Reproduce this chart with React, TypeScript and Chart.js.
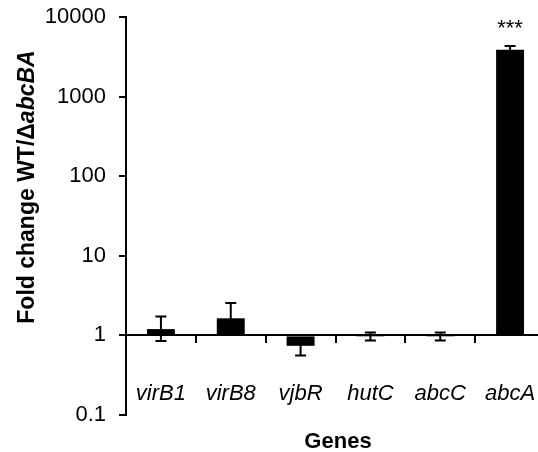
import React, { useEffect, useRef } from "react";
import { Chart, registerables } from "chart.js";

Chart.register(...registerables);

const genes = ["virB1", "virB8", "vjbR", "hutC", "abcC", "abcA"];
const foldChange = [1.2, 1.64, 0.74, 0.98, 0.98, 3890];
const errHigh = [1.73, 2.56, 0.9, 1.09, 1.09, 4315];
const errLow = [0.85, 1.1, 0.56, 0.865, 0.865, 3500];
const significance = ["", "", "", "", "", "***"];
const yTickValues = [0.1, 1, 10, 100, 1000, 10000];
const yTickLabels = ["0.1", "1", "10", "100", "1000", "10000"];
const xTitle = "Genes";
const yTitleParts = [
  { text: "Fold change ", italic: false },
  { text: "WT/Δ", italic: false },
  { text: "abcBA", italic: true },
];

const FONT = "'Liberation Sans', Arial, Helvetica, sans-serif";

const annotationPlugin = {
  id: "annot",
  afterDatasetsDraw(chart: any) {
    const ctx = chart.ctx;
    const y = chart.scales.y;
    ctx.save();
    ctx.strokeStyle = "#000";
    ctx.lineWidth = 2;
    const meta = chart.getDatasetMeta(0);
    meta.data.forEach((bar: any, i: number) => {
      const cx = bar.x;
      const yh = y.getPixelForValue(errHigh[i]);
      const yl = y.getPixelForValue(errLow[i]);
      const cap = 5.5;
      ctx.beginPath();
      ctx.moveTo(cx, yh);
      ctx.lineTo(cx, yl);
      ctx.moveTo(cx - cap, yh);
      ctx.lineTo(cx + cap, yh);
      ctx.moveTo(cx - cap, yl);
      ctx.lineTo(cx + cap, yl);
      ctx.stroke();
      if (significance[i]) {
        ctx.fillStyle = "#000";
        ctx.font = `22px ${FONT}`;
        ctx.textAlign = "center";
        ctx.textBaseline = "alphabetic";
        ctx.fillText(significance[i], cx, yh - 11);
      }
    });
    ctx.restore();
  },
  afterDraw(chart: any) {
    const ctx = chart.ctx;
    ctx.save();
    ctx.fillStyle = "#000";
    // x title
    ctx.font = `bold 22px ${FONT}`;
    ctx.textAlign = "center";
    ctx.textBaseline = "alphabetic";
    ctx.fillText(xTitle, 338, 448);
    // y title (rotated, mixed italic)
    const fonts = yTitleParts.map((p) => `${p.italic ? "italic " : ""}bold 23px ${FONT}`);
    let total = 0;
    const widths = yTitleParts.map((p, i) => {
      ctx.font = fonts[i];
      const w = ctx.measureText(p.text).width;
      total += w;
      return w;
    });
    ctx.translate(34, 187);
    ctx.rotate(-Math.PI / 2);
    ctx.textAlign = "left";
    let pos = -total / 2;
    yTitleParts.forEach((p, i) => {
      ctx.font = fonts[i];
      ctx.fillText(p.text, pos, 0);
      pos += widths[i];
    });
    ctx.restore();
  },
};

export default function App() {
  const ref = useRef<HTMLCanvasElement | null>(null);
  useEffect(() => {
    if (!ref.current) return;
    const chart = new Chart(ref.current, {
      type: "bar",
      data: {
        labels: genes,
        datasets: [
          {
            data: foldChange,
            base: 1,
            backgroundColor: "#000",
            borderWidth: 0,
            barPercentage: 0.4,
            categoryPercentage: 1,
          } as any,
        ],
      },
      options: {
        responsive: false,
        animation: false,
        devicePixelRatio: 1,
        layout: { padding: { top: 17, bottom: 37, left: 0, right: 0 } },
        plugins: { legend: { display: false }, tooltip: { enabled: false } },
        scales: {
          x: {
            type: "category",
            position: { y: 1 } as any,
            offset: true,
            afterFit: (s: any) => {
              s.height = 0;
              s.paddingLeft = 0;
              s.paddingRight = 0;
              s.paddingTop = 0;
              s.paddingBottom = 0;
            },
            grid: {
              offset: true,
              drawOnChartArea: false,
              drawTicks: true,
              tickLength: 7,
              color: "#000",
              lineWidth: 2,
            },
            border: { display: true, color: "#000", width: 2 },
            ticks: {
              color: "#000",
              padding: 38,
              maxRotation: 0,
              autoSkip: false,
              font: { family: FONT, size: 22, style: "italic" },
            },
          },
          y: {
            type: "logarithmic",
            min: 0.1,
            max: 10000,
            position: "left",
            afterFit: (s: any) => {
              s.width = 126;
              s.paddingTop = 0;
              s.paddingBottom = 0;
              s.paddingLeft = 0;
              s.paddingRight = 0;
            },
            afterBuildTicks: (s: any) => {
              s.ticks = yTickValues.map((v) => ({ value: v }));
            },
            grid: {
              drawOnChartArea: false,
              drawTicks: true,
              tickLength: 7,
              color: "#000",
              lineWidth: 2,
            },
            border: { display: true, color: "#000", width: 2 },
            ticks: {
              color: "#000",
              padding: 13,
              font: { family: FONT, size: 22 },
              callback: (_v: any, i: number) => yTickLabels[i],
            },
          },
        },
      },
      plugins: [annotationPlugin],
    });
    return () => chart.destroy();
  }, []);
  return (
    <div style={{ position: "absolute", left: 0, top: 0, width: 538, height: 452, overflow: "hidden", background: "#fff" }}>
      <canvas ref={ref} width={545} height={452} style={{ width: 545, height: 452, display: "block" }} />
    </div>
  );
}
